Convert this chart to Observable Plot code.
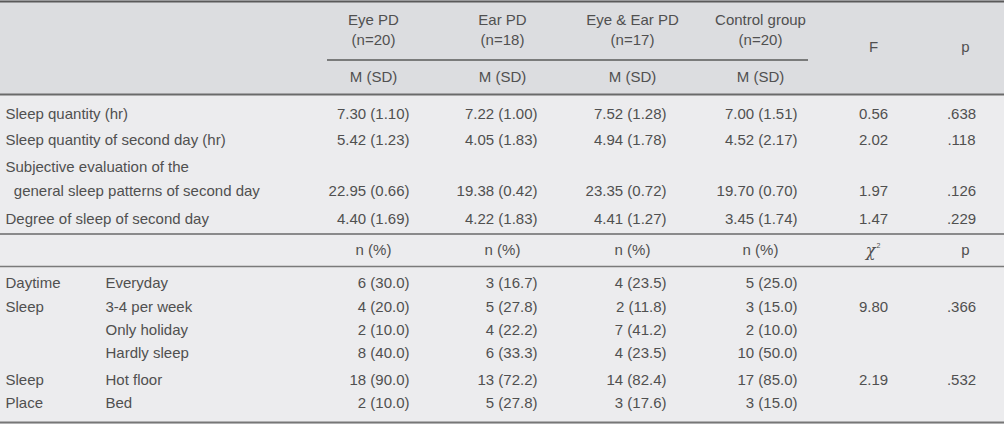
<!DOCTYPE html>
<html><head><meta charset="utf-8">
<script src="https://cdn.jsdelivr.net/npm/d3@7"></script>
<script src="https://cdn.jsdelivr.net/npm/@observablehq/plot@0.6"></script>
<style>
html,body{margin:0;padding:0;background:#ececee;}
svg{display:block;}
</style></head>
<body><div id="chart"></div>
<script>
// ---------- data ----------
const groups = ["Eye PD", "Ear PD", "Eye & Ear PD", "Control group"];
const groupN = ["(n=20)", "(n=18)", "(n=17)", "(n=20)"];
const contVars = ["Sleep quantity (hr)", "Sleep quantity of second day (hr)", "Subjective evaluation of the", "Degree of sleep of second day"];
const contVarCont = ["", "", "  general sleep patterns of second day", ""];
const eyeMean = [7.30, 5.42, 22.95, 4.40];
const eyeSD = [1.10, 1.23, 0.66, 1.69];
const earMean = [7.22, 4.05, 19.38, 4.22];
const earSD = [1.00, 1.83, 0.42, 1.83];
const bothMean = [7.52, 4.94, 23.35, 4.41];
const bothSD = [1.28, 1.78, 0.72, 1.27];
const ctrlMean = [7.00, 4.52, 19.70, 3.45];
const ctrlSD = [1.51, 2.17, 0.70, 1.74];
const contF = [0.56, 2.02, 1.97, 1.47];
const contP = [".638", ".118", ".126", ".229"];

const catGroupLabel = ["Daytime", "Sleep", "", "", "Sleep", "Place"];
const catLevels = ["Everyday", "3-4 per week", "Only holiday", "Hardly sleep", "Hot floor", "Bed"];
const eyeN = [6, 4, 2, 8, 18, 2];
const eyePct = [30.0, 20.0, 10.0, 40.0, 90.0, 10.0];
const earN = [3, 5, 4, 6, 13, 5];
const earPct = [16.7, 27.8, 22.2, 33.3, 72.2, 27.8];
const bothN = [4, 2, 7, 4, 14, 3];
const bothPct = [23.5, 11.8, 41.2, 23.5, 82.4, 17.6];
const ctrlN = [5, 3, 2, 10, 17, 3];
const ctrlPct = [25.0, 15.0, 10.0, 50.0, 85.0, 15.0];
const catChi = ["", "9.80", "", "", "2.19", ""];
const catP = ["", ".366", "", "", ".532", ""];

// ---------- layout ----------
const W = 1004, H = 424;
const colCenter = [373, 502, 632, 760];
const colRight = [409, 537, 666, 797];
const fX = 873, pX = 961, labelX = 5, subX = 105;
const hdrY1 = 20, hdrY2 = 40, msdY = 77, fpHdrY = 47;
const contY = [114, 140, 167, 219], contY2 = 191, contValY = [114, 140, 191, 219];
const npY = 250;
const catY = [283, 307, 330, 353, 380, 403];

const means = [eyeMean, earMean, bothMean, ctrlMean];
const sds = [eyeSD, earSD, bothSD, ctrlSD];
const ns = [eyeN, earN, bothN, ctrlN];
const pcts = [eyePct, earPct, bothPct, ctrlPct];

const fmt2 = d3.format(".2f"), fmt1 = d3.format(".1f");

const hdrText = [];
groups.forEach((g, i) => {
  hdrText.push({x: colCenter[i], y: hdrY1, t: g});
  hdrText.push({x: colCenter[i], y: hdrY2, t: groupN[i]});
  hdrText.push({x: colCenter[i], y: msdY, t: "M (SD)"});
  hdrText.push({x: colCenter[i], y: npY, t: "n (%)"});
});
hdrText.push({x: fX, y: fpHdrY, t: "F"});
hdrText.push({x: pX + 4, y: fpHdrY, t: "p"});
hdrText.push({x: pX + 4, y: npY, t: "p"});

const cells = [];
contVars.forEach((v, r) => {
  cells.push({x: labelX, y: contY[r], t: v, a: "start"});
  if (contVarCont[r]) cells.push({x: labelX, y: contY2, t: contVarCont[r], a: "start"});
  for (let g = 0; g < 4; g++) {
    cells.push({x: colRight[g], y: contValY[r], t: `${fmt2(means[g][r])} (${fmt2(sds[g][r])})`, a: "end"});
  }
  cells.push({x: fX, y: contValY[r], t: fmt2(contF[r]), a: "middle"});
  cells.push({x: pX, y: contValY[r], t: contP[r], a: "middle"});
});
catLevels.forEach((lv, r) => {
  if (catGroupLabel[r]) cells.push({x: labelX, y: catY[r], t: catGroupLabel[r], a: "start"});
  cells.push({x: subX, y: catY[r], t: lv, a: "start"});
  for (let g = 0; g < 4; g++) {
    cells.push({x: colRight[g], y: catY[r], t: `${ns[g][r]} (${fmt1(pcts[g][r])})`, a: "end"});
  }
  if (catChi[r]) cells.push({x: fX, y: catY[r], t: catChi[r], a: "middle"});
  if (catP[r]) cells.push({x: pX, y: catY[r], t: catP[r], a: "middle"});
});

const bands = [
  {y1: 0, y2: 94, fill: "#dcdde0"},
  {y1: 94, y2: H, fill: "#ececee"}
];
const rules = [
  {y: 1, x1: 0, x2: W, w: 2, c: "#5a5a5a"},
  {y: 59.5, x1: 327, x2: 808, w: 1.6, c: "#5a5a5a"},
  {y: 94, x1: 0, x2: W, w: 2, c: "#6a6a6a"},
  {y: 233.5, x1: 0, x2: W, w: 1.6, c: "#6a6a6a"},
  {y: 266, x1: 0, x2: W, w: 1.6, c: "#7a7a7a"},
  {y: 422, x1: 0, x2: W, w: 2, c: "#777"}
];

const font = "'Liberation Sans', Arial, sans-serif";
const fs = 15, ink = "#505050";
const chart = Plot.plot({
  width: W, height: H, margin: 0,
  x: {type: "identity", axis: null},
  y: {type: "identity", axis: null},
  style: {background: "#ececee", fontFamily: font},
  marks: [
    Plot.rect(bands, {x1: 0, x2: W, y1: "y1", y2: "y2", fill: "fill"}),
    Plot.ruleY(rules, {y: "y", x1: "x1", x2: "x2", strokeWidth: "w", stroke: "c"}),
    Plot.text(hdrText, {x: "x", y: "y", text: "t", textAnchor: "middle", fontSize: fs, fill: ink}),
    Plot.text(cells.filter(d => d.a === "start"), {x: "x", y: "y", text: "t", textAnchor: "start", fontSize: fs, fill: ink}),
    Plot.text(cells.filter(d => d.a === "end"), {x: "x", y: "y", text: "t", textAnchor: "end", fontSize: fs, fill: ink}),
    Plot.text(cells.filter(d => d.a === "middle"), {x: "x", y: "y", text: "t", textAnchor: "middle", fontSize: fs, fill: ink}),
    Plot.text([{x: fX - 3, y: npY, t: "\u03C7"}], {x: "x", y: "y", text: "t", fontSize: 16, fontStyle: "italic", fontFamily: "'DejaVu Serif', serif", fill: ink}),
    Plot.text([{x: fX + 5, y: npY - 5, t: "2"}], {x: "x", y: "y", text: "t", fontSize: 7, fill: ink})
  ]
});
document.getElementById("chart").appendChild(chart);
</script></body></html>
